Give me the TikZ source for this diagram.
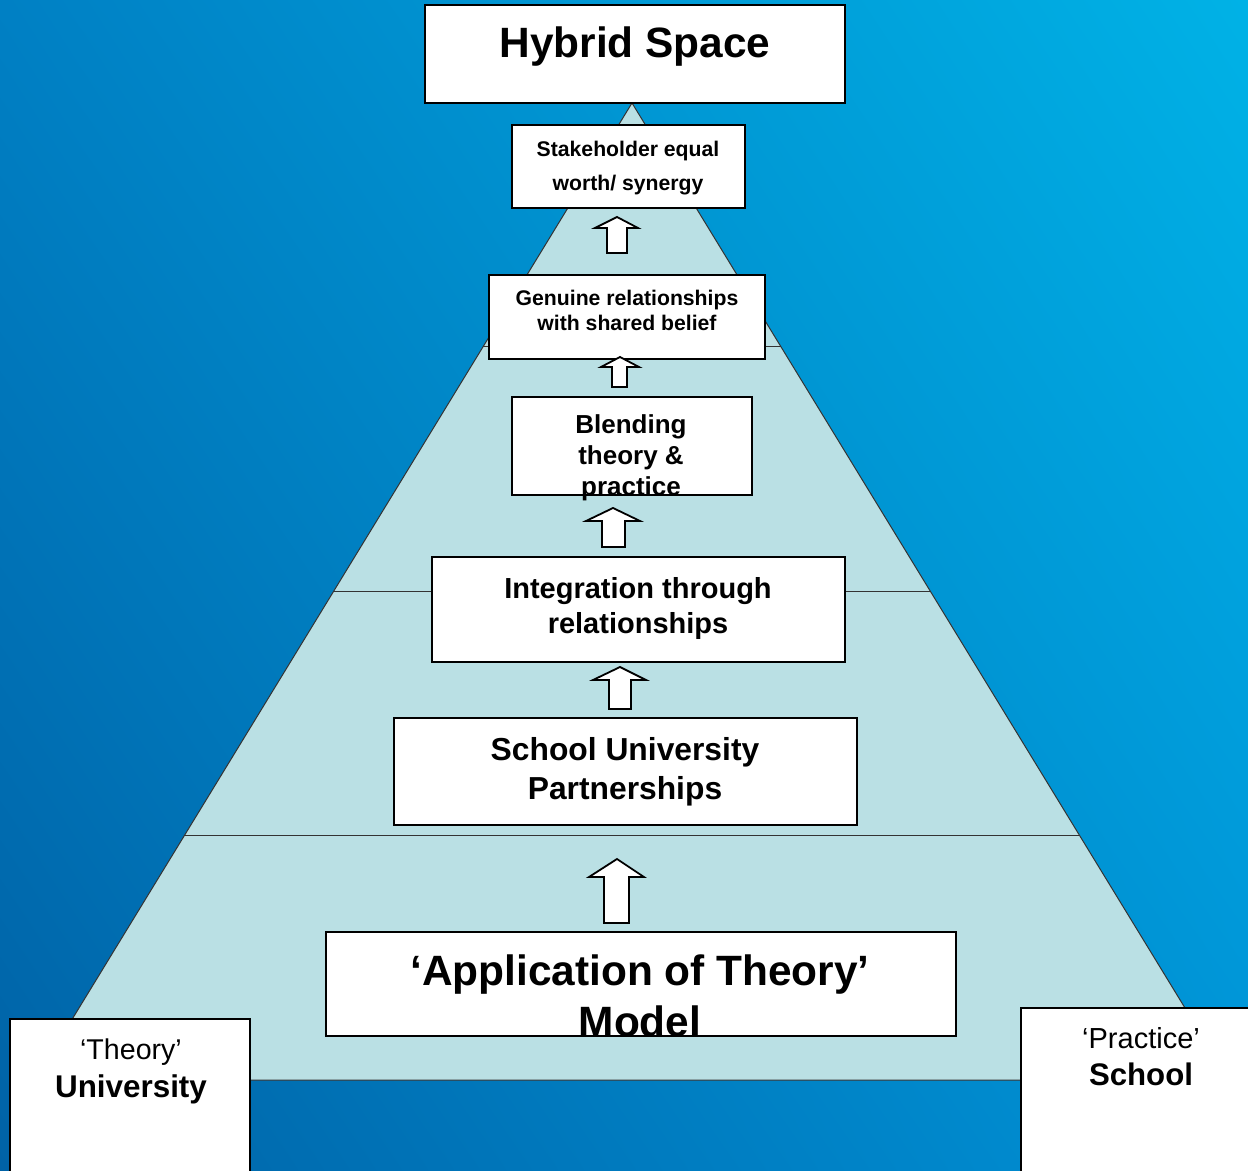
\documentclass[tikz,border=0pt]{standalone}
\usepackage{fontspec}
\setmainfont{Liberation Sans}
\usetikzlibrary{shadings}
\newcommand\stk[1]{\begin{tabular}[t]{@{}c@{}}#1\end{tabular}}
\definecolor{pyr}{RGB}{186,224,228}
\definecolor{bgUL}{RGB}{0,128,196}
\definecolor{bgUR}{RGB}{0,178,230}
\definecolor{bgLL}{RGB}{0,98,166}
\definecolor{bgLR}{RGB}{0,146,214}
\begin{document}
\begin{tikzpicture}[x=0.5pt,y=-0.5pt,
  box/.style={draw=black, line width=1pt, fill=white},
  txt/.style={inner sep=0pt, anchor=base, text=black},
  blockarrow/.style={draw=black, line width=0.9pt, fill=white, line join=miter},
  pyredge/.style={draw=black!80, line width=0.5pt}]
\useasboundingbox (0,0) rectangle (1248,1171);
\shade[upper left=bgUL, upper right=bgUR, lower left=bgLL, lower right=bgLR] (0,0) rectangle (1248,1171);

% pyramid
\coordinate (apex) at (632,103);
\coordinate (bl) at (35,1080);
\coordinate (br) at (1229,1080);
\fill[pyr] (apex) -- (br) -- (bl) -- cycle;
\draw[pyredge] (apex) -- (br) -- (bl) -- cycle;
\draw[pyredge] (483,347) -- (781,347);
\draw[pyredge] (334,591) -- (930,591);
\draw[pyredge] (185,835) -- (1079,835);

% boxes
\draw[box] (425,5) rectangle (845,103);
\draw[box] (512,125) rectangle (745,208);
\draw[box] (489,275) rectangle (765,359);
\draw[box] (512,397) rectangle (752,495);
\draw[box] (432,557) rectangle (845,662);
\draw[box] (394,718) rectangle (857,825);
\draw[box] (326,932) rectangle (956,1036);
\draw[box] (10,1019) rectangle (250,1190);
\draw[box] (1021,1008) rectangle (1260,1190);

% block arrows
\draw[blockarrow] (617,217) -- (638,228) -- (627,228) -- (627,253) -- (607,253) -- (607,228) -- (595,228) -- cycle;
\draw[blockarrow] (620,357) -- (639,367) -- (627,367) -- (627,387) -- (612,387) -- (612,367) -- (601,367) -- cycle;
\draw[blockarrow] (613,508) -- (640,521) -- (625,521) -- (625,547) -- (602,547) -- (602,521) -- (586,521) -- cycle;
\draw[blockarrow] (620,667) -- (646,680) -- (631,680) -- (631,709) -- (609,709) -- (609,680) -- (593,680) -- cycle;
\draw[blockarrow] (617,859) -- (644,877) -- (629,877) -- (629,923) -- (604,923) -- (604,877) -- (589,877) -- cycle;

% texts
\node[txt, font=\fontsize{21.2}{25}\selectfont\bfseries] (thyb) at (635,58) {\stk{Hybrid Space}};
\node[txt, font=\fontsize{10.6}{17}\selectfont\bfseries] (tstk) at (628,157) {\stk{Stakeholder equal\\worth/ synergy}};
\node[txt, font=\fontsize{10.6}{12.3}\selectfont\bfseries] (tgen) at (627,306) {\stk{Genuine relationships\\with shared belief}};
\node[txt, font=\fontsize{13}{15.5}\selectfont\bfseries] (tble) at (631,434) {\stk{Blending\\theory \&\\practice}};
\node[txt, font=\fontsize{14.5}{17.5}\selectfont\bfseries] (tint) at (638,598) {\stk{Integration through\\relationships}};
\node[txt, font=\fontsize{15.9}{19.5}\selectfont\bfseries] (tsch) at (625,760) {\stk{School University\\Partnerships}};
\node[txt, font=\fontsize{21.2}{25.5}\selectfont\bfseries] (tapp) at (640,985) {\stk{‘Application of Theory’\\Model}};
\node[txt, font=\fontsize{14.3}{19}\selectfont] (tthe) at (131,1059) {\stk{‘Theory’\\{\fontsize{15.7}{19}\selectfont\bfseries University}}};
\node[txt, font=\fontsize{14.5}{18.5}\selectfont] (tpra) at (1141,1048) {\stk{‘Practice’\\{\fontsize{15.6}{18.5}\selectfont\bfseries School}}};
\end{tikzpicture}
\end{document}
